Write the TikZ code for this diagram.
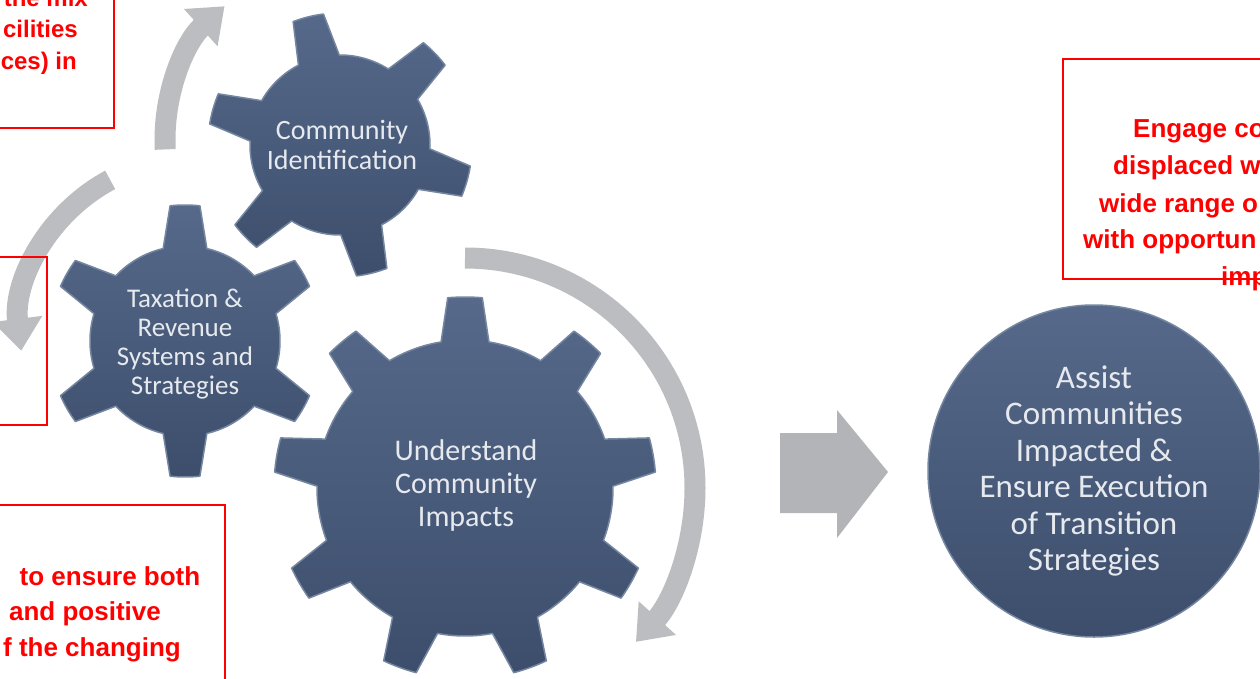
\documentclass[tikz,border=0pt]{standalone}
\usepackage{fontspec}
\setmainfont{Liberation Sans}
\newfontfamily\gearfont{Carlito}
\usetikzlibrary{arrows.meta}

\definecolor{geartop}{HTML}{56698A}
\definecolor{gearbot}{HTML}{3D4E6C}
\definecolor{gearedge}{HTML}{7586A1}
\definecolor{gearlabel}{HTML}{E6E9EE}
\definecolor{loopgray}{HTML}{BCBDC1}
\definecolor{notered}{HTML}{FF0000}

\tikzset{
  gearbody/.style={top color=geartop, bottom color=gearbot, draw=gearedge, line width=1.5pt, line join=round},
  geartext/.style={text=gearlabel, align=center, inner sep=0pt},
  loop/.style={draw=loopgray, line width=21pt, -{Triangle[width=48pt,length=32pt]}},
  notebox/.style={draw=notered, line width=2pt},
  notetext/.style={text=notered, inner sep=0pt, font=\bfseries\fontsize{26}{30}\selectfont},
}

\begin{document}
\begin{tikzpicture}[x=1pt,y=1pt]

\useasboundingbox (0,0) rectangle (1260,-679);
\fill[white] (0,0) rectangle (1260,-679);
\clip (0,0) rectangle (1260,-679);

% gears
\begin{scope}[shift={(185,-341)}]
\path[gearbody] (76.7:95)
  \foreach \a in {90,150,...,390} {
    -- ({\a-6.3}:136) arc[start angle={\a-6.3}, end angle={\a+6.3}, radius=136]
    -- ({\a+13.3}:95) arc[start angle={\a+13.3}, end angle={\a+60-13.3}, radius=95]
  } -- cycle;
\end{scope}

\begin{scope}[shift={(340,-145)}]
\path[gearbody] (90.5:90)
  \foreach \a in {104,164,...,404} {
    -- ({\a-6.8}:132) arc[start angle={\a-6.8}, end angle={\a+6.8}, radius=132]
    -- ({\a+13.5}:90) arc[start angle={\a+13.5}, end angle={\a+60-13.5}, radius=90]
  } -- cycle;
\end{scope}

\begin{scope}[shift={(465,-488)}]
\path[gearbody] (80.7:148)
  \foreach \a in {90,130,...,410} {
    -- ({\a-5.2}:191) arc[start angle={\a-5.2}, end angle={\a+5.2}, radius=191]
    -- ({\a+9.3}:148) arc[start angle={\a+9.3}, end angle={\a+40-9.3}, radius=148]
  } -- cycle;
\end{scope}

\node[geartext, font=\gearfont\fontsize{27}{29}\selectfont] (taxation) at (185,-344)
  {Taxation \&\\Revenue\\Systems and\\Strategies};
\node[geartext, font=\gearfont\fontsize{28}{30}\selectfont] (identify) at (342,-145)
  {Community\\Identification};
\node[geartext, font=\gearfont\fontsize{30}{33}\selectfont] (impacts) at (466,-485)
  {Understand\\Community\\Impacts};

% loops
\draw[loop] (345,-140) ++(183:180) arc[start angle=183, end angle=132, radius=180];
\draw[loop] (190,-330) ++(118:170) arc[start angle=118, end angle=187, radius=170];
\draw[loop] (465,-488) ++(90:230) arc[start angle=90, end angle=-42, radius=230];

% block arrow
\fill[loopgray!95!black] (780,-433) -- (837,-433) -- (837,-410) -- (888,-472)
  -- (837,-538) -- (837,-513) -- (780,-513) -- cycle;

\node[circle, minimum size=332pt, gearbody, geartext,
  font=\gearfont\fontsize{33}{36.5}\selectfont] (assist) at (1094,-471)
  {Assist\\Communities\\Impacted \&\\Ensure Execution\\of Transition\\Strategies};

% red notes
\draw[notebox] (-5,5) rectangle (114,-128);
\node[notetext, font=\bfseries\fontsize{24}{30}\selectfont, anchor=base east] (mixline) at (88,-7) {the mix};
\node[notetext, font=\bfseries\fontsize{24}{30}\selectfont, anchor=base east] (cilline) at (78,-38) {cilities};
\node[notetext, font=\bfseries\fontsize{24}{30}\selectfont, anchor=base east] (cesline) at (77,-70) {ces) in};

\draw[notebox] (-5,-257) rectangle (47,-425);

\draw[notebox] (-5,-505) rectangle (225,-690);
\node[notetext, anchor=base] (ensline) at (110,-585) {to ensure both};
\node[notetext, anchor=base] (posline) at (85,-620) {and positive};
\node[notetext, anchor=base east] (chgline) at (181,-656) {f the changing};

\draw[notebox] (1063,-59) rectangle (1270,-279);
\node[notetext, anchor=base west] (engline) at (1133,-138) {Engage co};
\node[notetext, anchor=base west] (displine) at (1113,-175) {displaced w};
\node[notetext, anchor=base west] (wideline) at (1099,-212) {wide range o};
\node[notetext, anchor=base west] (oppline) at (1083,-248) {with opportun};
\node[notetext, anchor=base west] (impline) at (1221,-285) {imp};

\end{tikzpicture}
\end{document}
